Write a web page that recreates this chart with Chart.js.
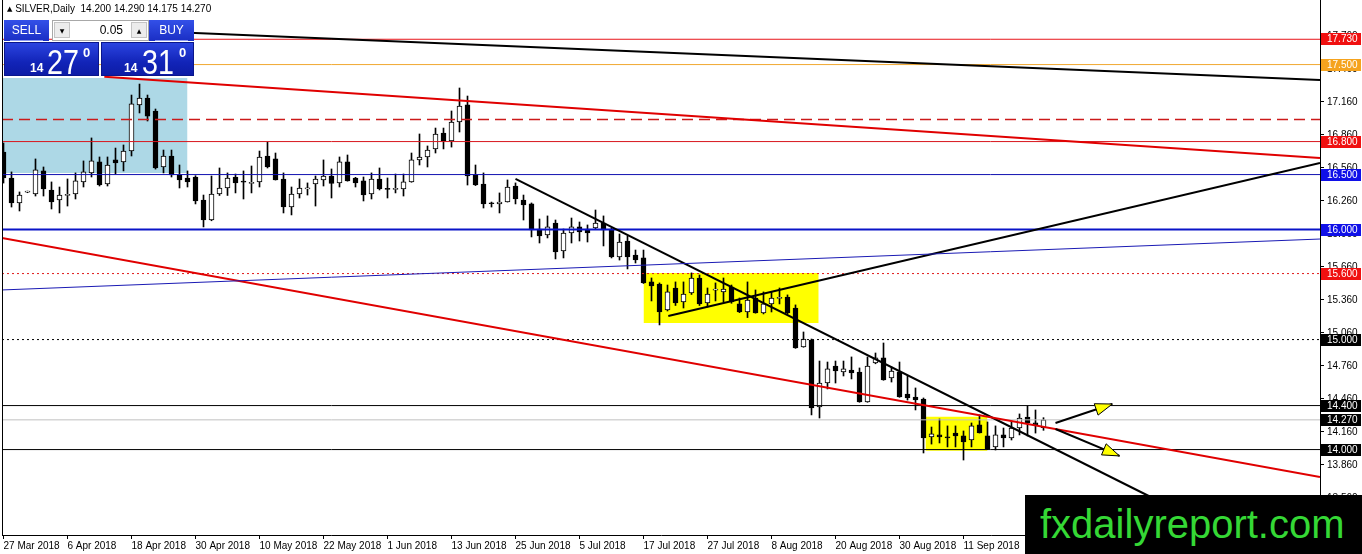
<!DOCTYPE html>
<html>
<head>
<meta charset="utf-8">
<title>SILVER, Daily</title>
<script src="https://cdn.jsdelivr.net/npm/chart.js@4.4.0/dist/chart.umd.min.js"></script>
<style>
  body { margin: 0; background: #fff; font-family: "Liberation Sans", "DejaVu Sans", sans-serif; }
  #wrap { position: relative; width: 1362px; height: 554px; overflow: hidden; }
  #chart { position: absolute; left: 0; top: 0; }
  .abs { position: absolute; }
  #title { left: 7px; top: 3px; font-size: 10px; color: #000; white-space: pre; }
  #title .tri { font-family: "DejaVu Sans"; font-size: 7px; position: relative; top: -1px; }
  .btn { background: linear-gradient(#3350e8, #1a2ec4); color: #fff; text-align: center; font-size: 12px; line-height: 21px; height: 21px; }
  .btn i { position: absolute; left: 6px; right: 6px; bottom: 0; height: 1px; background: #8d9cf2; }
  #lot { left: 52px; top: 20px; width: 95px; height: 19px; background: #fff; border: 1px solid #a8a8a8; }
  .spin { position: absolute; top: 1px; width: 16px; height: 16px; background: #ececec; border: 1px solid #c4c4c4; box-sizing: border-box; font-family: "DejaVu Sans"; font-size: 6px; line-height: 15px; text-align: center; color: #000; }
  #lotval { position: absolute; right: 25px; top: 2px; font-size: 12px; color: #000; }
  .quote { background: linear-gradient(#2b44e0, #1224b8 60%, #0d1ca6); border: 1px solid #0a168c; box-sizing: border-box; color: #fff; }
  .quote .sm { position: absolute; font-size: 12px; font-weight: bold; top: 18px; }
  .quote .big { position: absolute; font-size: 35px; top: -1px; transform: scaleX(0.82); transform-origin: left top; }
  .quote .sup { position: absolute; font-size: 13px; top: 2px; font-weight: bold; }
  #brand { left: 1025px; top: 495px; width: 337px; height: 59px; background: #000; color: #35d835; font-size: 40px; line-height: 59px; padding-left: 15px; box-sizing: border-box; }
</style>
</head>
<body>
<div id="wrap">
  <canvas id="chart" width="1362" height="554"></canvas>

  <div id="title" class="abs"><span class="tri">▲</span> SILVER,Daily  14.200 14.290 14.175 14.270</div>

  <div class="abs btn" style="left:4px; top:20px; width:45px;">SELL<i></i></div>
  <div id="lot" class="abs">
    <div class="spin" style="left:1px;">▼</div>
    <span id="lotval">0.05</span>
    <div class="spin" style="right:1px;">▲</div>
  </div>
  <div class="abs btn" style="left:149px; top:20px; width:45px;">BUY<i></i></div>

  <div class="abs quote" style="left:4px; top:42px; width:95px; height:34px;">
    <span class="sm" style="left:25px;">14</span>
    <span class="big" style="left:42px;">27</span>
    <span class="sup" style="left:78px;">0</span>
  </div>
  <div class="abs quote" style="left:101px; top:42px; width:93px; height:34px;">
    <span class="sm" style="left:22px;">14</span>
    <span class="big" style="left:40px;">31</span>
    <span class="sup" style="left:77px;">0</span>
  </div>

  <div id="brand" class="abs">fxdailyreport.com</div>
</div>

<script>
// SILVER daily candles, 27 Mar 2018 .. 25 Sep 2018 (one entry per trading day)
const opens = [
  16.705, 16.469, 16.242, 16.340, 16.323, 16.533, 16.360, 16.269, 16.310, 16.323,
  16.433, 16.515, 16.615, 16.414, 16.633, 16.615, 16.714, 17.133, 17.196, 17.078,
  16.569, 16.669, 16.496, 16.469, 16.478, 16.269, 16.087, 16.323, 16.378, 16.478,
  16.440, 16.420, 16.433, 16.669, 16.642, 16.460, 16.205, 16.323, 16.370, 16.414,
  16.451, 16.487, 16.424, 16.615, 16.469, 16.442, 16.323, 16.460, 16.370, 16.365,
  16.369, 16.433, 16.633, 16.660, 16.733, 16.878, 16.805, 16.978, 17.133, 16.496,
  16.414, 16.240, 16.233, 16.251, 16.396, 16.269, 16.233, 16.005, 15.951, 16.060,
  15.805, 15.969, 16.024, 16.005, 16.014, 16.060, 16.005, 15.751, 15.896, 15.769,
  15.742, 15.524, 15.505, 15.269, 15.469, 15.342, 15.424, 15.560, 15.333, 15.450,
  15.433, 15.478, 15.324, 15.251, 15.378, 15.242, 15.324, 15.375, 15.387, 15.287,
  14.933, 14.996, 14.387, 14.605, 14.760, 14.705, 14.723, 14.705, 14.433, 14.787,
  14.833, 14.651, 14.705, 14.505, 14.478, 14.460, 14.115, 14.133, 14.115, 14.150,
  14.124, 14.087, 14.224, 14.124, 14.024, 14.133, 14.105, 14.196, 14.296, 14.242,
  14.200
];
const highs = [
  16.787, 16.524, 16.342, 16.350, 16.642, 16.569, 16.433, 16.387, 16.460, 16.515,
  16.624, 16.833, 16.660, 16.660, 16.741, 16.769, 17.223, 17.323, 17.223, 17.096,
  16.723, 16.723, 16.587, 16.533, 16.490, 16.314, 16.487, 16.560, 16.515, 16.505,
  16.533, 16.578, 16.714, 16.796, 16.696, 16.515, 16.387, 16.460, 16.424, 16.487,
  16.633, 16.551, 16.660, 16.678, 16.475, 16.478, 16.515, 16.560, 16.469, 16.505,
  16.505, 16.696, 16.869, 16.760, 16.923, 16.923, 17.078, 17.287, 17.214, 16.587,
  16.515, 16.250, 16.333, 16.451, 16.424, 16.314, 16.242, 16.096, 16.124, 16.087,
  16.005, 16.105, 16.069, 16.042, 16.178, 16.124, 16.014, 15.960, 15.942, 15.814,
  15.814, 15.560, 15.515, 15.496, 15.524, 15.524, 15.606, 15.587, 15.469, 15.515,
  15.560, 15.496, 15.378, 15.524, 15.451, 15.433, 15.433, 15.469, 15.406, 15.315,
  15.069, 15.005, 14.805, 14.796, 14.805, 14.805, 14.842, 14.742, 14.842, 14.878,
  14.969, 14.751, 14.796, 14.669, 14.560, 14.469, 14.205, 14.278, 14.215, 14.215,
  14.169, 14.242, 14.315, 14.251, 14.215, 14.196, 14.260, 14.324, 14.396, 14.360,
  14.290
];
const lows = [
  16.423, 16.205, 16.169, 16.335, 16.305, 16.305, 16.187, 16.151, 16.214, 16.278,
  16.387, 16.478, 16.396, 16.396, 16.505, 16.533, 16.669, 17.060, 16.987, 16.550,
  16.515, 16.478, 16.378, 16.387, 16.233, 16.024, 16.080, 16.310, 16.310, 16.333,
  16.278, 16.333, 16.387, 16.560, 16.450, 16.151, 16.133, 16.287, 16.314, 16.214,
  16.396, 16.287, 16.387, 16.440, 16.387, 16.260, 16.278, 16.360, 16.287, 16.333,
  16.305, 16.430, 16.587, 16.569, 16.696, 16.733, 16.750, 16.887, 16.405, 16.400,
  16.196, 16.205, 16.151, 16.250, 16.233, 16.087, 15.933, 15.878, 15.924, 15.733,
  15.742, 15.878, 15.896, 15.887, 16.005, 15.851, 15.742, 15.723, 15.642, 15.696,
  15.510, 15.351, 15.133, 15.260, 15.310, 15.287, 15.410, 15.310, 15.296, 15.351,
  15.342, 15.330, 15.245, 15.200, 15.240, 15.233, 15.251, 15.324, 15.233, 14.920,
  14.930, 14.315, 14.287, 14.551, 14.605, 14.669, 14.642, 14.430, 14.430, 14.780,
  14.630, 14.614, 14.475, 14.450, 14.360, 13.969, 14.050, 14.060, 14.024, 14.024,
  13.905, 14.024, 14.150, 14.000, 13.996, 14.024, 14.087, 14.133, 14.124, 14.150,
  14.175
];
const closes = [
  16.469, 16.242, 16.314, 16.345, 16.542, 16.369, 16.251, 16.314, 16.320, 16.442,
  16.524, 16.624, 16.405, 16.587, 16.605, 16.714, 17.142, 17.196, 17.032, 16.560,
  16.669, 16.496, 16.451, 16.433, 16.260, 16.087, 16.323, 16.378, 16.469, 16.424,
  16.430, 16.430, 16.660, 16.569, 16.451, 16.205, 16.323, 16.378, 16.380, 16.460,
  16.487, 16.420, 16.615, 16.442, 16.424, 16.314, 16.460, 16.369, 16.365, 16.370,
  16.433, 16.633, 16.660, 16.723, 16.869, 16.805, 16.978, 17.123, 16.487, 16.405,
  16.233, 16.235, 16.251, 16.387, 16.278, 16.224, 15.996, 15.942, 16.024, 15.796,
  15.969, 16.024, 15.978, 15.969, 16.060, 15.996, 15.751, 15.887, 15.751, 15.723,
  15.515, 15.487, 15.251, 15.433, 15.333, 15.414, 15.560, 15.323, 15.414, 15.455,
  15.460, 15.342, 15.251, 15.360, 15.242, 15.324, 15.378, 15.380, 15.242, 14.924,
  15.005, 14.378, 14.605, 14.733, 14.714, 14.733, 14.696, 14.433, 14.760, 14.833,
  14.633, 14.714, 14.478, 14.469, 14.451, 14.105, 14.142, 14.115, 14.105, 14.124,
  14.069, 14.215, 14.151, 14.005, 14.133, 14.105, 14.196, 14.287, 14.242, 14.224,
  14.270
];

// date labels, one every 8 bars
const xTickLabels = ["27 Mar 2018", "6 Apr 2018", "18 Apr 2018", "30 Apr 2018", "10 May 2018",
  "22 May 2018", "1 Jun 2018", "13 Jun 2018", "25 Jun 2018", "5 Jul 2018", "17 Jul 2018",
  "27 Jul 2018", "8 Aug 2018", "20 Aug 2018", "30 Aug 2018", "11 Sep 2018"];
const yTickValues = [13.56, 13.86, 14.16, 14.46, 14.76, 15.06, 15.36, 15.66, 15.96,
  16.26, 16.56, 16.86, 17.16, 17.46, 17.76];

// horizontal levels drawn across the chart
const levels = [17.73, 17.5, 17.0, 16.8, 16.5, 16.0, 15.6, 15.0, 14.4, 14.27, 14.0];
// levels that carry a price tag on the axis
const taggedLevels = [17.73, 17.5, 16.8, 16.5, 16.0, 15.6, 15.0, 14.4, 14.27, 14.0];

// trend lines: [bar index, price, bar index, price]
const trendUpperBlack = [12, 17.823, 164.56, 17.36];
const trendUpperRed = [12.6, 17.39, 164.56, 16.651];
const trendLowerRed = [-0.19, 15.924, 164.56, 13.751];
const trendBlue = [-0.19, 15.451, 164.56, 15.914];
const trendRising = [83.1, 15.214, 164.56, 16.605];
const trendFalling = [64, 16.46, 145.9, 13.478];
const arrowUp = [131.5, 14.242, 138.6, 14.414];
const arrowDown = [131.5, 14.187, 139.5, 13.942];

// boxes: [from bar, to bar, top price, bottom price]
const boxBlue = [-0.19, 23, 17.378, 16.515];
const boxYellow1 = [80, 101.9, 15.605, 15.151];
const boxYellow2 = [115.25, 123, 14.299, 13.99];

const xMin = -0.1875;
const xMax = xMin + 1318 / 8;
const yMax = 18.087;
const yMin = yMax - 535 / 110;

const levelStyle = {
  17.73: ['#e8141a', 1, []],
  17.5: ['#f0a830', 1, []],
  17.0: ['#cc1a1a', 1.5, [11, 6]],
  16.8: ['#d8161c', 1, []],
  16.5: ['#1010b0', 1, []],
  16.0: ['#0a14c8', 2, []],
  15.6: ['#e01a1a', 1, [2, 3]],
  15.0: ['#000000', 1, [2, 3]],
  14.4: ['#000000', 1, []],
  14.27: ['#c0c0c0', 1, []],
  14.0: ['#000000', 1, []]
};
const tagColors = {
  17.73: '#f01010', 17.5: '#f5a31e', 16.8: '#f01010', 16.5: '#1010e8', 16.0: '#1010e8',
  15.6: '#f01010', 15.0: '#000000', 14.4: '#000000', 14.27: '#000000', 14.0: '#000000'
};

const idx = opens.map((_, i) => i);

function segment(t, color, width, order) {
  return {
    type: 'line',
    data: [{x: t[0], y: t[1]}, {x: t[2], y: t[3]}],
    borderColor: color, borderWidth: width, pointRadius: 0, tension: 0,
    fill: false, order: order
  };
}

function box(b, color) {
  return {
    type: 'line',
    data: [{x: b[0], y: b[2]}, {x: b[1], y: b[2]}],
    borderWidth: 0, pointRadius: 0, backgroundColor: color,
    fill: {value: b[3]}, order: 20
  };
}

const datasets = [
  box(boxBlue, '#add8e6'),
  box(boxYellow1, '#ffff00'),
  box(boxYellow2, '#ffff00'),
  // wicks
  {
    type: 'bar',
    data: idx.map(i => ({x: i, y: [lows[i], highs[i]]})),
    backgroundColor: '#000', borderWidth: 0,
    barThickness: 1, grouped: false, minBarLength: 1, order: 6
  },
  // bodies
  {
    type: 'bar',
    data: idx.map(i => ({x: i, y: [opens[i], closes[i]]})),
    backgroundColor: idx.map(i => closes[i] >= opens[i] ? '#ffffff' : '#000000'),
    borderColor: '#000', borderWidth: 1, borderSkipped: false,
    barThickness: 5, grouped: false, minBarLength: 1, order: 5
  }
];

levels.forEach(v => {
  const s = levelStyle[v];
  const d = segment([xMin, v, xMax, v], s[0], s[1], 2);
  d.borderDash = s[2];
  datasets.push(d);
});

datasets.push(segment(trendBlue, '#1a1ab4', 1, 1));
datasets.push(segment(trendUpperBlack, '#000000', 2, 1));
datasets.push(segment(trendUpperRed, '#e00000', 2, 1));
datasets.push(segment(trendLowerRed, '#e00000', 2, 1));
datasets.push(segment(trendRising, '#000000', 2, 1));
datasets.push(segment(trendFalling, '#000000', 2, 1));
datasets.push(segment(arrowUp, '#000000', 2, 0));
datasets.push(segment(arrowDown, '#000000', 2, 0));

// arrow heads, frame and price tags
const overlay = {
  id: 'overlay',
  afterDraw(chart) {
    const {ctx, chartArea, scales: {x, y}} = chart;
    ctx.save();

    [arrowUp, arrowDown].forEach(a => {
      const x0 = x.getPixelForValue(a[0]), y0 = y.getPixelForValue(a[1]);
      const x1 = x.getPixelForValue(a[2]), y1 = y.getPixelForValue(a[3]);
      const len = Math.hypot(x1 - x0, y1 - y0);
      const ux = (x1 - x0) / len, uy = (y1 - y0) / len;
      const bx = x1 - ux * 17, by = y1 - uy * 17;
      ctx.beginPath();
      ctx.moveTo(x1, y1);
      ctx.lineTo(bx - uy * 6, by + ux * 6);
      ctx.lineTo(bx + uy * 6, by - ux * 6);
      ctx.closePath();
      ctx.fillStyle = '#ffff00';
      ctx.fill();
      ctx.strokeStyle = '#000';
      ctx.lineWidth = 1;
      ctx.stroke();
    });

    // left edge of the frame
    ctx.fillStyle = '#000';
    ctx.fillRect(chartArea.left, chartArea.top, 1, chartArea.bottom - chartArea.top);

    ctx.font = '10px "Liberation Sans"';
    ctx.textBaseline = 'middle';
    ctx.textAlign = 'left';
    taggedLevels.forEach(v => {
      const py = Math.round(y.getPixelForValue(v));
      ctx.fillStyle = tagColors[v];
      ctx.fillRect(chartArea.right + 1, py - 6, 40, 12);
      ctx.fillStyle = '#fff';
      ctx.fillText(v.toFixed(3), chartArea.right + 7, py + 0.5);
    });
    ctx.restore();
  }
};

new Chart(document.getElementById('chart'), {
  type: 'bar',
  data: {datasets: datasets},
  plugins: [overlay],
  options: {
    responsive: false,
    animation: false,
    events: [],
    layout: {padding: {left: 2, top: 0, right: 0, bottom: 0}, autoPadding: false},
    plugins: {legend: {display: false}, tooltip: {enabled: false}},
    scales: {
      x: {
        type: 'linear', min: xMin, max: xMax, offset: false,
        afterBuildTicks: s => { s.ticks = xTickLabels.map((_, k) => ({value: k * 8})); },
        afterFit: s => {
          s.height = 19;
          s.paddingLeft = s.paddingRight = s.paddingTop = s.paddingBottom = 0;
        },
        ticks: {
          callback: v => xTickLabels[Math.round(v / 8)] || '',
          align: 'start', autoSkip: false, maxRotation: 0, padding: 1,
          color: '#000', font: {family: 'Liberation Sans', size: 10}
        },
        grid: {drawOnChartArea: false, tickLength: 4, color: '#000', offset: false},
        border: {display: true, color: '#000'}
      },
      y: {
        position: 'right', min: yMin, max: yMax,
        afterBuildTicks: s => { s.ticks = yTickValues.map(v => ({value: v})); },
        afterFit: s => {
          s.width = 42;
          s.paddingLeft = s.paddingRight = s.paddingTop = s.paddingBottom = 0;
        },
        ticks: {
          callback: v => Number(v).toFixed(3), padding: 3,
          color: '#000', font: {family: 'Liberation Sans', size: 10}
        },
        grid: {drawOnChartArea: false, tickLength: 4, color: '#000'},
        border: {display: true, color: '#000'}
      }
    }
  }
});
</script>
</body>
</html>
